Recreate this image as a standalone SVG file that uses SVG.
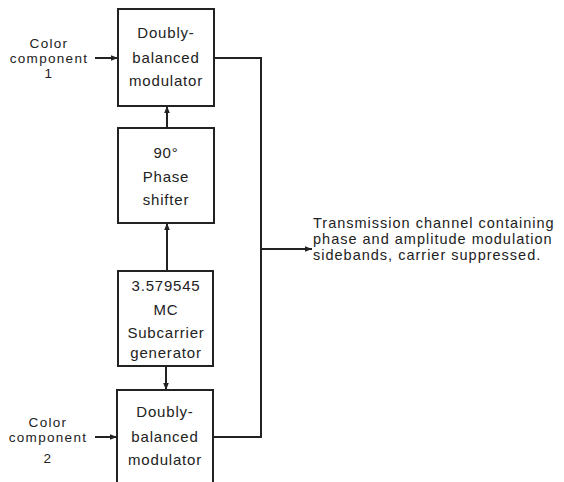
<svg xmlns="http://www.w3.org/2000/svg" width="564" height="482" viewBox="0 0 564 482">
<style>
.box{fill:#fff;stroke:#222;stroke-width:2}
.ln{fill:none;stroke:#222;stroke-width:2}
text{font-family:"Liberation Sans",Arial,sans-serif;fill:#222;text-anchor:middle}
.b{font-size:15px;letter-spacing:0.8px}
.l{font-size:13.5px;letter-spacing:1.3px}
.r{font-size:14.5px;letter-spacing:1px;text-anchor:start}
</style>
<defs>
<marker id="ah" viewBox="0 0 10 10" refX="10" refY="5" markerWidth="7" markerHeight="7" markerUnits="userSpaceOnUse" orient="auto">
<path d="M0,1 L10,5 L0,9 Z" fill="#222"/>
</marker>
</defs>
<rect width="564" height="482" fill="#fff"/>
<g id="connectors">
<line class="ln" x1="95" y1="58" x2="118" y2="58" marker-end="url(#ah)"/>
<line class="ln" x1="95" y1="437" x2="117" y2="437" marker-end="url(#ah)"/>
<line class="ln" x1="167" y1="128" x2="167" y2="106" marker-end="url(#ah)"/>
<line class="ln" x1="167" y1="271" x2="167" y2="223" marker-end="url(#ah)"/>
<line class="ln" x1="166" y1="366" x2="166" y2="390" marker-end="url(#ah)"/>
<polyline class="ln" points="214,58 261,58 261,437 213,437"/>
<line class="ln" x1="261" y1="249" x2="312" y2="249" marker-end="url(#ah)"/>
</g>
<g id="mod1">
<rect class="box" x="118" y="9" width="96" height="97"/>
<text class="b" x="166" y="38">Doubly-</text>
<text class="b" x="166" y="63">balanced</text>
<text class="b" x="166" y="86">modulator</text>
</g>
<g id="phase">
<rect class="box" x="118" y="128" width="96" height="95"/>
<text class="b" x="166" y="158">90°</text>
<text class="b" x="166" y="182">Phase</text>
<text class="b" x="166" y="205">shifter</text>
</g>
<g id="gen">
<rect class="box" x="118" y="271" width="95" height="95"/>
<text class="b" x="166" y="291">3.579545</text>
<text class="b" x="166" y="315">MC</text>
<text class="b" x="166" y="338">Subcarrier</text>
<text class="b" x="166" y="358">generator</text>
</g>
<g id="mod2">
<rect class="box" x="117" y="390" width="96" height="100"/>
<text class="b" x="165" y="417">Doubly-</text>
<text class="b" x="165" y="442">balanced</text>
<text class="b" x="165" y="465">modulator</text>
</g>
<g id="in1">
<text class="l" x="49" y="48">Color</text>
<text class="l" x="49" y="63">component</text>
<text class="l" x="49" y="78">1</text>
</g>
<g id="in2">
<text class="l" x="48" y="427">Color</text>
<text class="l" x="48" y="442">component</text>
<text class="l" x="48" y="463">2</text>
</g>
<g id="out">
<text class="r" x="313" y="228">Transmission channel containing</text>
<text class="r" x="313" y="244">phase and amplitude modulation</text>
<text class="r" x="313" y="260">sidebands, carrier suppressed.</text>
</g>
</svg>
